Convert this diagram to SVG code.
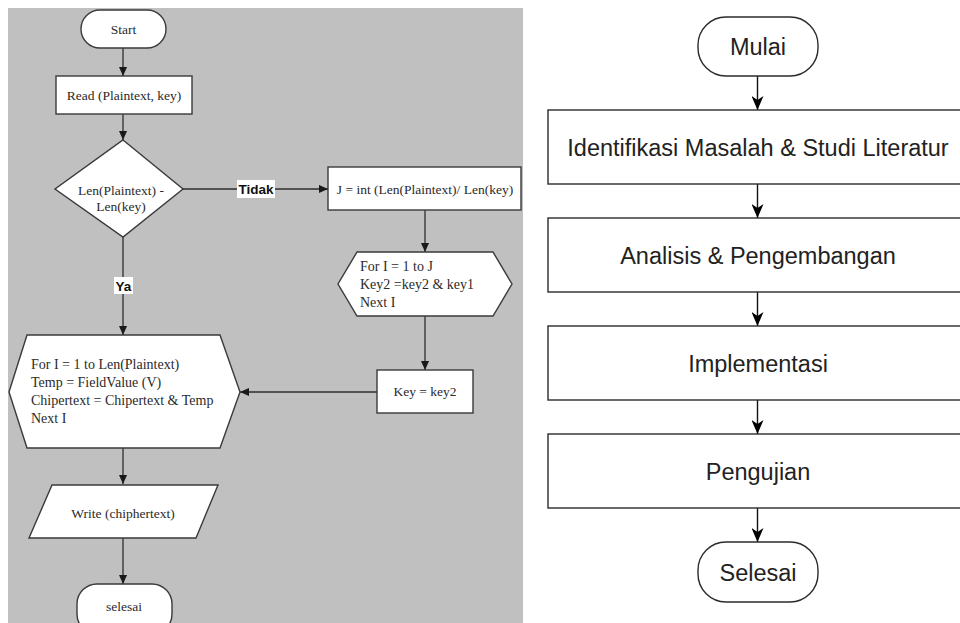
<svg xmlns="http://www.w3.org/2000/svg" width="960" height="623" viewBox="0 0 960 623">
  <style>
    .bg { fill: #c0c0c0; }
    .lshape { fill: #ffffff; stroke: #3a3a3a; stroke-width: 1.4; }
    .ltext { font-family: "Liberation Serif", "Times New Roman", serif; font-size: 13.5px; fill: #2a2a2a; }
    .ltext.big { font-size: 14px; }
    .lwire { stroke: #2e2e2e; stroke-width: 1.3; fill: none; }
    .lab { font-family: "Liberation Sans", Arial, sans-serif; font-size: 13.5px; font-weight: bold; fill: #111; }
    .labbg { fill: #ffffff; }
    .rshape { fill: #ffffff; stroke: #2b2b2b; stroke-width: 1.4; }
    .rtext { font-family: "Liberation Sans", Arial, sans-serif; font-size: 23.5px; fill: #222; text-anchor: middle; }
    .rwire { stroke: #111; stroke-width: 1.4; fill: none; }
    .c { text-anchor: middle; }
  </style>
  <defs>
    <marker id="tri" viewBox="0 0 10 10" refX="10" refY="5" markerWidth="9" markerHeight="9" markerUnits="userSpaceOnUse" orient="auto">
      <path d="M0,0.5 L10,5 L0,9.5 Z" fill="#1a1a1a"/>
    </marker>
    <marker id="open" viewBox="0 0 14 12" refX="14" refY="6" markerWidth="14" markerHeight="12" markerUnits="userSpaceOnUse" orient="auto">
      <path d="M0,0 L14,6 L0,12 L4,6 Z" fill="#000"/>
    </marker>
  </defs>

  <!-- left flowchart: encryption routine -->
  <rect class="bg" x="8" y="8" width="515" height="615"/>

  <g id="connectors-left">
    <line class="lwire" x1="123" y1="48" x2="123" y2="76" marker-end="url(#tri)"/>
    <line class="lwire" x1="123" y1="114" x2="123" y2="140" marker-end="url(#tri)"/>
    <line class="lwire" x1="183" y1="189" x2="328" y2="189" marker-end="url(#tri)"/>
    <line class="lwire" x1="123" y1="237" x2="123" y2="335" marker-end="url(#tri)"/>
    <line class="lwire" x1="425" y1="210" x2="425" y2="252" marker-end="url(#tri)"/>
    <line class="lwire" x1="425" y1="316" x2="425" y2="370" marker-end="url(#tri)"/>
    <line class="lwire" x1="377" y1="392" x2="240" y2="392" marker-end="url(#tri)"/>
    <line class="lwire" x1="123" y1="448" x2="123" y2="484" marker-end="url(#tri)"/>
    <line class="lwire" x1="123" y1="538" x2="123" y2="584" marker-end="url(#tri)"/>
    <rect class="labbg" x="237" y="180" width="38" height="18"/>
    <text class="lab" x="256" y="194" text-anchor="middle">Tidak</text>
    <rect class="labbg" x="114" y="277" width="19" height="17"/>
    <text class="lab" x="123.5" y="291" text-anchor="middle">Ya</text>
  </g>

  <g id="start">
    <rect class="lshape" x="81" y="10" width="85" height="38" rx="19"/>
    <text class="ltext c" x="123.5" y="34">Start</text>
  </g>

  <g id="read-input">
    <rect class="lshape" x="56" y="76" width="136" height="38"/>
    <text class="ltext c" x="124" y="100">Read (Plaintext, key)</text>
  </g>

  <g id="length-check">
    <polygon class="lshape" points="123,140 183,189 123,237 55,189"/>
    <text class="ltext c" x="121" y="195">Len(Plaintext) -</text>
    <text class="ltext c" x="121" y="211">Len(key)</text>
  </g>

  <g id="compute-j">
    <rect class="lshape" x="328" y="167" width="193" height="43"/>
    <text class="ltext c" x="425" y="194">J = int (Len(Plaintext)/ Len(key)</text>
  </g>

  <g id="repeat-key">
    <polygon class="lshape" points="357,252 493,252 512,284 493,316 357,316 338,284"/>
    <text class="ltext big" x="360" y="271">For I = 1 to J</text>
    <text class="ltext big" x="360" y="289">Key2 =key2 &amp; key1</text>
    <text class="ltext big" x="360" y="307">Next I</text>
  </g>

  <g id="assign-key">
    <rect class="lshape" x="377" y="370" width="96" height="43"/>
    <text class="ltext c" x="425" y="396">Key = key2</text>
  </g>

  <g id="encrypt-loop">
    <polygon class="lshape" points="27,335 220,335 240,392 220,448 27,448 9,392"/>
    <text class="ltext big" x="31" y="369">For I = 1 to Len(Plaintext)</text>
    <text class="ltext big" x="31" y="387">Temp = FieldValue (V)</text>
    <text class="ltext big" x="31" y="405">Chipertext = Chipertext &amp; Temp</text>
    <text class="ltext big" x="31" y="423">Next I</text>
  </g>

  <g id="write-output">
    <polygon class="lshape" points="52,485 218,485 196,538 29,538"/>
    <text class="ltext c" x="123" y="518">Write (chiphertext)</text>
  </g>

  <g id="end-left">
    <rect class="lshape" x="77" y="584" width="95" height="50" rx="20"/>
    <text class="ltext c" x="124" y="611">selesai</text>
  </g>

  <!-- right flowchart: research stages -->
  <g id="connectors-right">
    <line class="rwire" x1="757.5" y1="76" x2="757.5" y2="110" marker-end="url(#open)"/>
    <line class="rwire" x1="757.5" y1="184" x2="757.5" y2="218" marker-end="url(#open)"/>
    <line class="rwire" x1="757.5" y1="292" x2="757.5" y2="326" marker-end="url(#open)"/>
    <line class="rwire" x1="757.5" y1="400" x2="757.5" y2="434" marker-end="url(#open)"/>
    <line class="rwire" x1="757.5" y1="508" x2="757.5" y2="542" marker-end="url(#open)"/>
  </g>

  <g id="mulai">
    <rect class="rshape" x="698" y="17" width="120" height="59" rx="28"/>
    <text class="rtext" x="758" y="55">Mulai</text>
  </g>

  <g id="identifikasi">
    <rect class="rshape" x="548" y="110" width="430" height="74"/>
    <text class="rtext" x="758" y="155.5">Identifikasi Masalah &amp; Studi Literatur</text>
  </g>

  <g id="analisis">
    <rect class="rshape" x="548" y="218" width="430" height="74"/>
    <text class="rtext" x="758" y="263.5">Analisis &amp; Pengembangan</text>
  </g>

  <g id="implementasi">
    <rect class="rshape" x="548" y="326" width="430" height="74"/>
    <text class="rtext" x="758" y="371.5">Implementasi</text>
  </g>

  <g id="pengujian">
    <rect class="rshape" x="548" y="434" width="430" height="74"/>
    <text class="rtext" x="758" y="479.5">Pengujian</text>
  </g>

  <g id="selesai">
    <rect class="rshape" x="698" y="542" width="120" height="60" rx="28"/>
    <text class="rtext" x="758" y="580.5">Selesai</text>
  </g>
</svg>
